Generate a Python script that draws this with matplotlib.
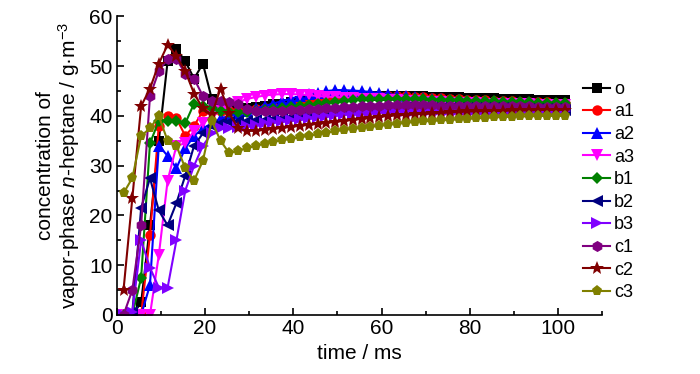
import matplotlib
matplotlib.use("Agg")
import matplotlib.pyplot as plt
from matplotlib import font_manager
from matplotlib.ticker import MultipleLocator

names = {f.name for f in font_manager.fontManager.ttflist}
base = 'Liberation Sans Narrow' if 'Liberation Sans Narrow' in names else 'Liberation Sans'
plt.rcParams['font.family'] = [base, 'DejaVu Sans']
plt.rcParams['mathtext.fontset'] = 'custom'
plt.rcParams['mathtext.rm'] = base
plt.rcParams['mathtext.it'] = base + ':italic'

time_ms = [1.5, 3.5, 5.5, 7.5, 9.5, 11.5, 13.5, 15.5, 17.5, 19.5, 21.5, 23.5,
           25.5, 27.5, 29.5, 31.5, 33.5, 35.5, 37.5, 39.5,
           41.5, 43.5, 45.5, 47.5, 49.5, 51.5, 53.5, 55.5, 57.5, 59.5,
           61.5, 63.5, 65.5, 67.5, 69.5, 71.5, 73.5, 75.5, 77.5, 79.5,
           81.5, 83.5, 85.5, 87.5, 89.5, 91.5, 93.5, 95.5, 97.5, 99.5, 101.5]

o = [0, 0, 2.5, 18, 35, 51, 53.5, 51, 47.5, 50.5, 43.5, 42,
     41.5, 41.5, 41.5, 41.8, 42, 42.3, 42.5, 42.8,
     43, 43.2, 43.4, 43.6, 43.8, 43.9, 44, 44, 44.1, 44.1,
     44.1, 44.1, 44, 44, 44, 43.9, 43.9, 43.8, 43.8, 43.7,
     43.7, 43.6, 43.6, 43.5, 43.5, 43.4, 43.4, 43.3, 43.3, 43.2, 43.2]
a1 = [0, 0, 0, 16, 38, 40, 39.5, 36, 38, 41, 41, 41,
      41, 41, 41.2, 41.4, 41.6, 41.8, 42, 42.3,
      42.6, 42.9, 43.2, 43.5, 43.7, 43.9, 44, 44.1, 44.1, 44.1,
      44, 44, 44, 43.9, 43.8, 43.7, 43.6, 43.5, 43.4, 43.3,
      43.3, 43.2, 43.1, 43, 43, 42.9, 42.9, 42.8, 42.8, 42.7, 42.7]
a2 = [0, 0, 0, 6, 34, 32, 29.5, 33.5, 36, 37.5, 38.5, 39.5,
      40, 40.5, 41, 41.5, 42, 42.5, 43, 43.5,
      44, 44.4, 44.7, 45, 45.2, 45.2, 45.1, 45, 44.8, 44.6,
      44.4, 44.2, 44, 43.8, 43.6, 43.5, 43.4, 43.3, 43.2, 43.1,
      43, 42.9, 42.8, 42.8, 42.7, 42.7, 42.6, 42.6, 42.5, 42.5, 42.5]
a3 = [0, 0, 0, 0, 12, 27, 34, 34.5, 37, 38.5, 40, 41,
      42, 42.8, 43.4, 43.8, 44.1, 44.3, 44.4, 44.4,
      44.3, 44.2, 44, 43.9, 43.8, 43.7, 43.6, 43.5, 43.4, 43.4,
      43.3, 43.2, 43.1, 43, 42.9, 42.8, 42.8, 42.7, 42.7, 42.6,
      42.6, 42.5, 42.5, 42.4, 42.4, 42.3, 42.3, 42.2, 42.2, 42.1, 42.1]
b1 = [0, 0, 7.5, 34.5, 39, 39, 39, 38.5, 42.5, 42, 41.5, 41,
      40.7, 40.7, 40.8, 41, 41.2, 41.4, 41.6, 41.8,
      42, 42.2, 42.5, 42.7, 42.9, 43.1, 43.3, 43.4, 43.5, 43.5,
      43.5, 43.5, 43.5, 43.4, 43.4, 43.3, 43.3, 43.2, 43.2, 43.1,
      43.1, 43, 43, 42.9, 42.9, 42.8, 42.8, 42.7, 42.7, 42.6, 42.6]
b2 = [0, 0.5, 21.5, 27.5, 21, 18, 22.5, 28, 34, 36.5, 38, 38.5,
      38.8, 39, 39, 39.1, 39.2, 39.3, 39.5, 39.7,
      39.9, 40.1, 40.3, 40.5, 40.7, 40.9, 41, 41.1, 41.2, 41.3,
      41.4, 41.5, 41.5, 41.6, 41.6, 41.6, 41.6, 41.6, 41.6, 41.6,
      41.6, 41.5, 41.5, 41.5, 41.4, 41.4, 41.4, 41.3, 41.3, 41.3, 41.2]
b3 = [0, 0.5, 15, 9.5, 5.5, 5.5, 15, 25, 30, 34, 36.5, 37.5,
      37.6, 37.8, 38, 38.2, 38.5, 38.7, 39, 39.2,
      39.4, 39.6, 39.8, 40, 40.2, 40.3, 40.4, 40.5, 40.6, 40.7,
      40.8, 40.9, 41, 41, 41.1, 41.1, 41.1, 41.2, 41.2, 41.2,
      41.2, 41.2, 41.2, 41.1, 41.1, 41.1, 41.1, 41, 41, 41, 41]
c1 = [0, 5, 18, 44, 49, 51.5, 51.5, 48.5, 47.5, 44, 43, 43,
      42.8, 42.3, 41.3, 41, 41, 41, 41, 41.1,
      41.2, 41.3, 41.4, 41.5, 41.6, 41.7, 41.8, 41.9, 42, 42,
      42.1, 42.1, 42.1, 42.1, 42.1, 42.1, 42, 42, 42, 42,
      42, 42, 42, 41.9, 41.9, 41.9, 41.9, 41.8, 41.8, 41.8, 41.8]
c2 = [5, 23.5, 42, 45.5, 50.5, 54.3, 52, 49, 44.5, 41.5, 40.3, 45.5,
      40.5, 37.5, 37, 37, 37.2, 37.4, 37.6, 37.8,
      38, 38.2, 38.4, 38.6, 38.8, 39, 39.2, 39.4, 39.6, 39.8,
      40, 40.1, 40.2, 40.3, 40.4, 40.5, 40.6, 40.7, 40.8, 40.9,
      40.9, 41, 41, 41, 41.1, 41.1, 41.1, 41.2, 41.2, 41.2, 41.2]
c3 = [24.5, 27.5, 36, 37.5, 40, 35, 34, 29.5, 27, 31, 39, 35,
      32.5, 33, 33.5, 34, 34.4, 34.8, 35.1, 35.4,
      35.7, 36, 36.3, 36.6, 36.9, 37.2, 37.4, 37.6, 37.8, 38,
      38.2, 38.4, 38.6, 38.8, 38.9, 39, 39.1, 39.2, 39.3, 39.4,
      39.5, 39.6, 39.7, 39.8, 39.8, 39.9, 39.9, 40, 40, 40, 40]

labels = ['o', 'a1', 'a2', 'a3', 'b1', 'b2', 'b3', 'c1', 'c2', 'c3']
series = [o, a1, a2, a3, b1, b2, b3, c1, c2, c3]
colors = ['#000000', '#FF0000', '#0000FF', '#FF00FF', '#008000',
          '#000080', '#8000FF', '#800080', '#800000', '#808000']
markers = ['s', 'o', '^', 'v', 'D', '<', '>', 'h', '*', 'p']
msizes = [7, 7.5, 8.5, 8.5, 6.5, 8.5, 8.5, 8, 10.5, 8]

fig = plt.figure(figsize=(7.0, 3.74), dpi=100)
ax = fig.add_axes([0.167, 0.158, 0.693, 0.798])

for y, lab, c, m, ms in zip(series, labels, colors, markers, msizes):
    ax.plot(time_ms, y, color=c, marker=m, markersize=ms, linewidth=1.5,
            markeredgewidth=0, label=lab)

ax.set_xlim(0, 110)
ax.set_ylim(0, 60)
ax.xaxis.set_major_locator(MultipleLocator(20))
ax.xaxis.set_minor_locator(MultipleLocator(10))
ax.yaxis.set_major_locator(MultipleLocator(10))
ax.yaxis.set_minor_locator(MultipleLocator(5))
ax.spines['top'].set_visible(False)
ax.spines['right'].set_visible(False)
for s in ('left', 'bottom'):
    ax.spines[s].set_linewidth(1.2)
ax.tick_params(which='both', direction='in', width=1.2, labelsize=15, pad=3)
ax.tick_params(which='major', length=5)
ax.tick_params(which='minor', length=3)

ax.set_xlabel('time / ms', fontsize=15, labelpad=4)
ax.set_ylabel('concentration of\nvapor-phase $n$-heptane / g·m$^{-3}$',
              fontsize=15, labelpad=5, linespacing=1.1)

leg = ax.legend(loc='upper left', bbox_to_anchor=(0.823, 0.803),
                bbox_transform=fig.transFigure, frameon=False, fontsize=13,
                handlelength=1.5, handletextpad=0.2, labelspacing=0.31,
                borderaxespad=0)

fig.savefig('out.png', dpi=100)
